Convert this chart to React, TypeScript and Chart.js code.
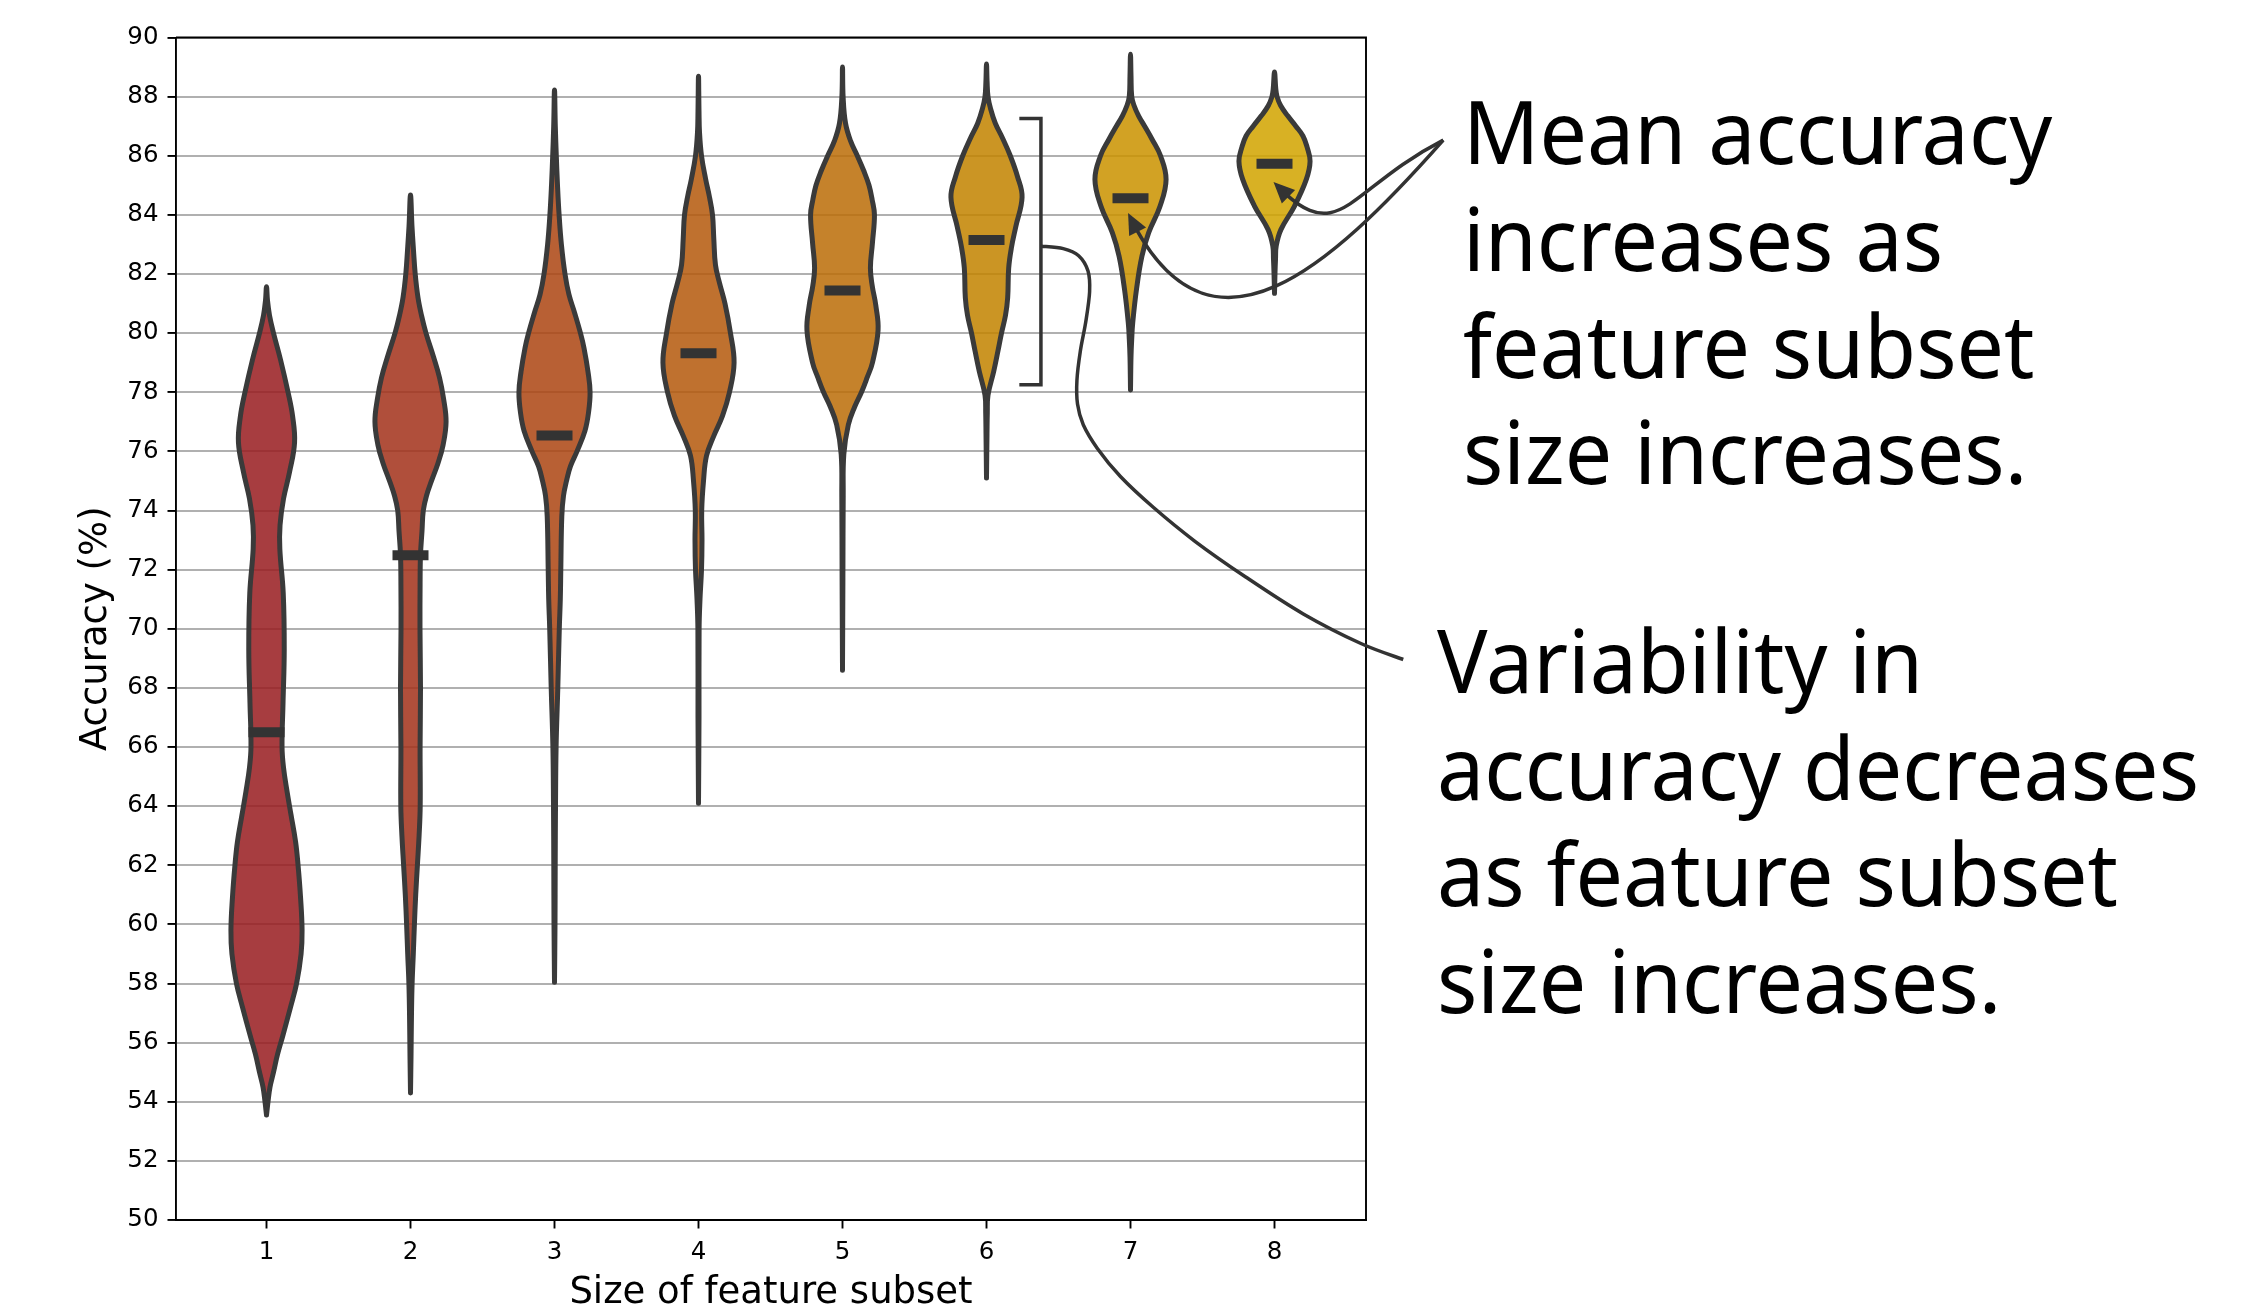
import React, { useEffect, useRef } from "react";
import { Chart, registerables } from "chart.js";

Chart.register(...registerables);

const W = 2247;
const H = 1309;

// ---------- data ----------
const categories = [1, 2, 3, 4, 5, 6, 7, 8];
const xTickLabels = ["1", "2", "3", "4", "5", "6", "7", "8"];
const yTickValues = [50, 52, 54, 56, 58, 60, 62, 64, 66, 68, 70, 72, 74, 76, 78, 80, 82, 84, 86, 88, 90];
const meanAccuracy = [66.5, 72.49, 76.54, 79.32, 81.44, 83.15, 84.56, 85.73];

// violin profiles: [accuracy (%), density (arbitrary units)]
const violin1: [number, number][] = [
  [53.55, 0], [54, 1.5], [54.5, 3.5], [55, 7], [55.6, 11], [56.2, 16], [57.2, 24], [58, 30], [59, 34.5],
  [59.8, 35.5], [60.9, 34], [62, 31.5], [62.8, 29], [63.7, 24.5], [64.5, 20.5], [65.3, 17], [66, 15.5],
  [67.5, 16.5], [69.3, 17.7], [71.2, 16.7], [72.7, 13.3], [73.5, 13.5], [74.4, 17], [75.3, 23], [76.3, 28],
  [77.2, 26], [78, 21.5], [79.1, 14], [80, 7], [80.6, 3], [81.1, 1], [81.57, 0],
];
const violin2: [number, number][] = [
  [54.3, 0], [55.5, 0.5], [57, 1], [58, 1.6], [59, 2.8], [60, 3.9], [61, 5.2], [62, 6.9], [63, 8.6], [64, 9.7],
  [66, 9.6], [68, 10], [70, 9.5], [71.5, 9.6], [72.5, 10], [73.3, 11.5], [74, 12.8], [74.5, 16], [75, 21],
  [75.6, 27.5], [76.2, 32.5], [77, 35.6], [77.8, 33], [78.5, 29], [79.2, 23], [80, 15.5], [80.6, 11],
  [81.2, 7.5], [82, 4.7], [82.8, 3], [83.6, 1.5], [84.67, 0],
];
const violin3: [number, number][] = [
  [58.04, 0], [60, 0.5], [62, 0.7], [64, 1], [66, 1.6], [68, 3.3], [70, 4.8], [71, 5.8], [72, 6.3], [73.8, 7.3],
  [74.5, 9], [75, 12], [75.5, 16], [76, 22.5], [76.7, 30.5], [77.3, 34], [78, 35.6], [78.7, 33.5], [79.5, 29.5],
  [80, 26], [80.7, 20], [81.3, 14.5], [82, 10.5], [83, 6.9], [84, 4.6], [85, 3], [86, 1.8], [87, 0.8], [88.22, 0],
];
const violin4: [number, number][] = [
  [64.1, 0], [67, 0.5], [70, 0.6], [71, 1.5], [72, 3], [73, 3.5], [74, 3.2], [75, 5], [75.85, 8], [76.5, 15],
  [77.2, 24], [78, 31], [79, 35.6], [80, 32], [81, 26.5], [81.7, 21], [82.3, 17], [83.2, 15.3], [84, 14],
  [84.6, 11], [85.2, 7.2], [86, 3], [86.8, 1], [87.5, 0.5], [88.69, 0],
];
const violin5: [number, number][] = [
  [68.6, 0], [71.7, 0.4], [74.5, 0.7], [75.9, 1.3], [76.9, 5.8], [77.5, 12], [78, 18.8], [78.5, 24.5], [79, 29.7],
  [80.1, 35.3], [80.95, 33], [81.6, 29.5], [82.2, 27.7], [83.05, 29.7], [84, 31.7], [84.5, 29.5], [85, 26.3],
  [85.5, 21], [86, 14.7], [86.5, 8], [87.1, 3], [88, 0.6], [89, 0],
];
const violin6: [number, number][] = [
  [75.1, 0], [76.6, 0.5], [77.3, 0.8], [77.9, 1.5], [78.7, 7.2], [79.4, 11.5], [80, 15], [80.6, 19], [81.2, 21.2],
  [82.2, 22.2], [82.9, 25], [83.6, 29.3], [84.6, 35.6], [85.3, 31], [86, 23.8], [86.6, 16], [87.1, 8.8],
  [87.6, 4], [88, 1.5], [88.5, 0.6], [89.1, 0],
];
const violin7: [number, number][] = [
  [78.08, 0], [79.2, 0.5], [79.8, 1.2], [80.35, 2.2], [81.5, 6], [82.6, 11.3], [83.4, 18], [84.3, 29.3],
  [85.2, 35.2], [86, 29.7], [86.56, 21.3], [87, 14], [87.35, 8], [87.7, 3.5], [88, 1.2], [88.7, 0.5], [89.43, 0],
];
const violin8: [number, number][] = [
  [81.35, 0], [82.05, 0.5], [82.5, 1], [82.95, 1.7], [83.5, 6.3], [84.3, 19.7], [85.2, 31.3], [85.82, 35],
  [86.3, 32], [86.67, 28], [87, 21], [87.35, 13], [87.7, 6], [88, 2.5], [88.25, 1.3], [88.83, 0],
];
const violinProfiles = [violin1, violin2, violin3, violin4, violin5, violin6, violin7, violin8];

// annotation texts
const meanNoteLines = ["Mean accuracy", "increases as", "feature subset", "size increases."];
const varNoteLines = ["Variability in", "accuracy decreases", "as feature subset", "size increases."];

// ---------- styles / geometry ----------
const fillColors = ["#a63d40", "#b04f3b", "#b86034", "#bf712f", "#c5822b", "#cb9424", "#d2a21e", "#d8b11b"];
const FILL_ALPHA = 0.86;
const OUTLINE = "#3a3a3a";
const HALF_W = 0.247; // max half-width of a violin in x units
const TICK_FONT = "'DejaVu Sans'";
const NOTE_FONT = "'Noto Sans'";

// annotation geometry (data coordinates)
const bracket = { x: 6.378, tickX: 6.228, top: 87.26, bottom: 78.25 };
const varConnector: [number, number][] = [
  [6.383, 82.94], [6.533, 82.86], [6.64, 82.62], [6.705, 82.1], [6.716, 81.4],
  [6.69, 80.4], [6.652, 79.4], [6.628, 78.4], [6.632, 77.6], [6.672, 76.9], [6.77, 76.1],
  [6.93, 75.15], [7.16, 74.1], [7.45, 72.95], [7.8, 71.75], [8.2, 70.5], [8.6, 69.5], [8.894, 68.96],
];
const meanArrowStart: [number, number] = [9.172, 86.53];
const meanArrows = [
  { c1: [8.344, 81.97], c2: [7.524, 78.52], tip: [6.983, 84.06] },
  { c1: [8.49, 84.82], c2: [8.453, 82.76], tip: [7.993, 85.11] },
];

function withAlpha(hex: string, a: number) {
  const n = parseInt(hex.slice(1), 16);
  const comp = [(n >> 16) & 255, (n >> 8) & 255, n & 255];
  const base = comp.map((c) => Math.max(0, Math.min(255, Math.round((c - 255 * (1 - a)) / a))));
  return `rgba(${base[0]},${base[1]},${base[2]},${a})`;
}

function violinPoints(center: number, profile: [number, number][]) {
  const maxD = Math.max(...profile.map((p) => p[1]));
  const right = profile.map(([y, d]) => ({ x: center + (d / maxD) * HALF_W, y }));
  const left = profile
    .slice()
    .reverse()
    .map(([y, d]) => ({ x: center - (d / maxD) * HALF_W, y }));
  return [...right, ...left.slice(1)];
}

type P = { x: number; y: number };

function smoothPath(ctx: CanvasRenderingContext2D, pts: P[]) {
  ctx.moveTo(pts[0].x, pts[0].y);
  for (let i = 0; i < pts.length - 1; i++) {
    const p0 = pts[i - 1] || pts[i];
    const p1 = pts[i];
    const p2 = pts[i + 1];
    const p3 = pts[i + 2] || p2;
    ctx.bezierCurveTo(
      p1.x + (p2.x - p0.x) / 6,
      p1.y + (p2.y - p0.y) / 6,
      p2.x - (p3.x - p1.x) / 6,
      p2.y - (p3.y - p1.y) / 6,
      p2.x,
      p2.y
    );
  }
}

function cubicAt(p0: P, p1: P, p2: P, p3: P, t: number): P {
  const u = 1 - t;
  return {
    x: u * u * u * p0.x + 3 * u * u * t * p1.x + 3 * u * t * t * p2.x + t * t * t * p3.x,
    y: u * u * u * p0.y + 3 * u * u * t * p1.y + 3 * u * t * t * p2.y + t * t * t * p3.y,
  };
}

function splitCubic(p0: P, p1: P, p2: P, p3: P, t: number): P[] {
  const l = (a: P, b: P) => ({ x: a.x + (b.x - a.x) * t, y: a.y + (b.y - a.y) * t });
  const a = l(p0, p1), b = l(p1, p2), c = l(p2, p3);
  const d = l(a, b), e = l(b, c), f = l(d, e);
  return [p0, a, d, f];
}

const annotationPlugin = {
  id: "figureAnnotations",
  afterDraw(chart: any) {
    const ctx: CanvasRenderingContext2D = chart.ctx;
    const xs = chart.scales.x;
    const ys = chart.scales.y;
    const pt = (v: number[] | [number, number]): P => ({ x: xs.getPixelForValue(v[0]), y: ys.getPixelForValue(v[1]) });
    const area = chart.chartArea;

    ctx.save();
    // top & right spines
    ctx.strokeStyle = "#000";
    ctx.lineWidth = 1.9;
    ctx.beginPath();
    ctx.moveTo(area.left, area.top);
    ctx.lineTo(area.right, area.top);
    ctx.lineTo(area.right, area.bottom);
    ctx.stroke();

    // bracket around violin 6
    ctx.strokeStyle = "#333";
    ctx.lineWidth = 3.5;
    ctx.lineJoin = "miter";
    ctx.beginPath();
    const b1 = pt([bracket.tickX, bracket.top]);
    const b2 = pt([bracket.x, bracket.top]);
    const b3 = pt([bracket.x, bracket.bottom]);
    const b4 = pt([bracket.tickX, bracket.bottom]);
    ctx.moveTo(b1.x, b1.y);
    ctx.lineTo(b2.x, b2.y);
    ctx.lineTo(b3.x, b3.y);
    ctx.lineTo(b4.x, b4.y);
    ctx.stroke();

    // connector from bracket to variability note
    ctx.beginPath();
    smoothPath(ctx, varConnector.map(pt));
    ctx.stroke();

    // arrows from mean note to means
    const s = pt(meanArrowStart);
    ctx.fillStyle = "#333";
    for (const a of meanArrows) {
      const c1 = pt(a.c1), c2 = pt(a.c2), tip = pt(a.tip);
      const headLen = 21;
      let t = 1;
      while (t > 0.5) {
        const q = cubicAt(s, c1, c2, tip, t);
        if (Math.hypot(q.x - tip.x, q.y - tip.y) >= headLen * 0.8) break;
        t -= 0.002;
      }
      const part = splitCubic(s, c1, c2, tip, t);
      ctx.beginPath();
      ctx.moveTo(part[0].x, part[0].y);
      ctx.bezierCurveTo(part[1].x, part[1].y, part[2].x, part[2].y, part[3].x, part[3].y);
      ctx.stroke();
      const q = part[3];
      let dx = tip.x - q.x, dy = tip.y - q.y;
      const len = Math.hypot(dx, dy) || 1;
      dx /= len; dy /= len;
      const bx = tip.x - dx * headLen, by = tip.y - dy * headLen;
      const hw = 9.5;
      ctx.beginPath();
      ctx.moveTo(tip.x, tip.y);
      ctx.lineTo(bx - dy * hw, by + dx * hw);
      ctx.lineTo(bx + dy * hw, by - dx * hw);
      ctx.closePath();
      ctx.fill();
    }

    // notes
    const size = 87.5;
    ctx.font = `${size}px ${NOTE_FONT}`;
    ctx.fillStyle = "#000";
    ctx.textBaseline = "alphabetic";
    ctx.textAlign = "left";
    const sx = 762 / ctx.measureText("accuracy decreases").width;
    const drawBlock = (lines: string[], x0: number, y0: number, step: number) => {
      lines.forEach((line, i) => {
        ctx.save();
        ctx.translate(x0, y0 + i * step);
        ctx.scale(sx, 1);
        ctx.fillText(line, 0, 0);
        ctx.restore();
      });
    };
    drawBlock(meanNoteLines, 1463, 164, 106.8);
    drawBlock(varNoteLines, 1437, 693, 106.5);
    ctx.restore();
  },
};

export default function App() {
  const ref = useRef<HTMLCanvasElement | null>(null);

  useEffect(() => {
    if (!ref.current) return;
    const violinDatasets = categories.map((c, i) => ({
      type: "line" as const,
      label: `violin ${c}`,
      data: violinPoints(c, violinProfiles[i]),
      parsing: { xAxisKey: "x", yAxisKey: "y" },
      borderColor: OUTLINE,
      borderWidth: 5,
      backgroundColor: withAlpha(fillColors[i], FILL_ALPHA),
      fill: "shape",
      tension: 0.4,
      pointRadius: 0,
      borderCapStyle: "round" as const,
      borderJoinStyle: "round" as const,
      order: 1,
    }));
    const meanDataset = {
      type: "line" as const,
      label: "mean",
      data: categories.map((c, i) => ({ x: c, y: meanAccuracy[i] })),
      showLine: false,
      pointStyle: "line",
      pointRadius: 18,
      pointBorderWidth: 10,
      pointBorderColor: "#333333",
      pointBackgroundColor: "#333333",
      order: 0,
    };

    const chart = new Chart(ref.current, {
      type: "line",
      data: { datasets: [...violinDatasets, meanDataset] as any },
      options: {
        responsive: false,
        animation: false,
        devicePixelRatio: 1,
        events: [],
        layout: { autoPadding: false, padding: { left: 0, right: 881, top: 37.5, bottom: 0 } },
        plugins: { legend: { display: false }, tooltip: { enabled: false } },
        scales: {
          x: {
            type: "linear",
            min: 0.3715,
            max: 8.6354,
            afterBuildTicks: (scale: any) => {
              scale.ticks = categories.map((v) => ({ value: v }));
            },
            afterFit: (scale: any) => {
              scale.height = 89;
            },
            ticks: {
              callback: (_v: any, i: number) => xTickLabels[i],
              font: { family: TICK_FONT, size: 24.5 },
              color: "#000",
              padding: 9,
              maxRotation: 0,
              autoSkip: false,
            },
            grid: {
              display: true,
              drawOnChartArea: false,
              drawTicks: true,
              tickLength: 8.5,
              tickColor: "#000",
              tickWidth: 1.9,
            },
            border: { display: true, color: "#000", width: 1.9 },
            title: {
              display: true,
              text: "Size of feature subset",
              font: { family: TICK_FONT, size: 37, lineHeight: 1 },
              color: "#000",
              padding: { top: 0, bottom: -3 },
            },
          },
          y: {
            type: "linear",
            min: 50,
            max: 90,
            afterBuildTicks: (scale: any) => {
              scale.ticks = yTickValues.map((v) => ({ value: v }));
            },
            afterFit: (scale: any) => {
              scale.width = 176;
            },
            ticks: {
              font: { family: TICK_FONT, size: 24.5 },
              color: "#000",
              padding: 9,
              autoSkip: false,
            },
            grid: {
              color: "#b0b0b0",
              lineWidth: 1.9,
              drawTicks: true,
              tickLength: 8.5,
              tickColor: "#000",
              tickWidth: 1.9,
            },
            border: { display: true, color: "#000", width: 1.9 },
            title: {
              display: true,
              text: "Accuracy (%)",
              font: { family: TICK_FONT, size: 37, lineHeight: 1 },
              color: "#000",
              padding: { top: 77.5, bottom: 0 },
            },
          },
        },
      } as any,
      plugins: [annotationPlugin],
    });
    return () => chart.destroy();
  }, []);

  return (
    <div style={{ position: "absolute", left: 0, top: 0, width: W, height: H, background: "#fff" }}>
      <canvas ref={ref} width={W} height={H} style={{ display: "block", width: W, height: H }} />
    </div>
  );
}
